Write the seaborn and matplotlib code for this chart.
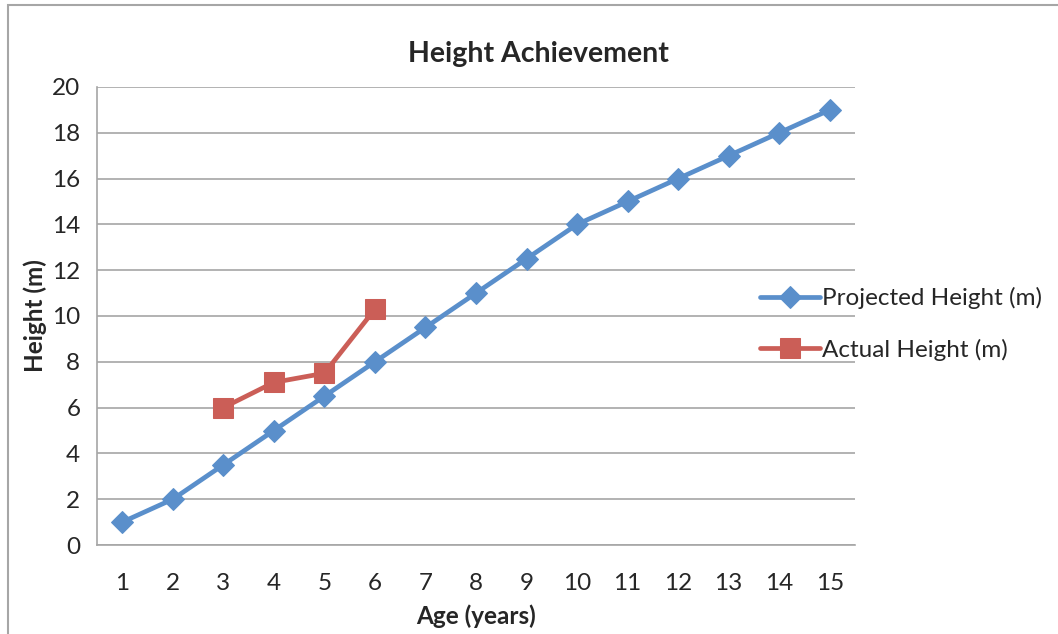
import numpy as np
import pandas as pd
import seaborn as sns
import matplotlib.pyplot as plt
from matplotlib.patches import Rectangle

ages = list(range(1, 16))
projected = [1, 2, 3.5, 5, 6.5, 8, 9.5, 11, 12.5, 14, 15, 16, 17, 18, 19]
actual_ages = [3, 4, 5, 6]
actual = [6, 7.1, 7.5, 10.3]

sns.set_style("white")
plt.rcParams['font.family'] = ['Lato', 'DejaVu Sans']

blue = "#5A8FCB"
red = "#CB5E57"
grey = "#A6A6A6"

fig = plt.figure(figsize=(10.58, 6.34), dpi=100)
ax = fig.add_axes([97 / 1058, 1 - 545 / 634, (855 - 97) / 1058, (545 - 87) / 634])

proj = pd.DataFrame({"age": ages, "height": projected})
act = pd.DataFrame({"age": actual_ages, "height": actual})

sns.lineplot(data=proj, x="age", y="height", ax=ax, color=blue, lw=3.4,
             marker="D", markersize=11, markeredgecolor=blue,
             label="Projected Height (m)", zorder=3)
sns.lineplot(data=act, x="age", y="height", ax=ax, color=red, lw=3.4,
             marker="s", markersize=14, markeredgecolor=red,
             label="Actual Height (m)", zorder=4)

ax.set_xlim(0.5, 15.5)
ax.set_ylim(0, 20)
ax.set_yticks(range(0, 21, 2))
ax.set_xticks(ages)
ax.set_xticks(np.arange(0.5, 16, 1), minor=True)
ax.tick_params(axis="x", which="major", length=0, labelsize=17.5, pad=20)
ax.tick_params(axis="x", which="minor", length=6, width=1.2, color=grey, direction="out")
ax.tick_params(axis="y", length=6, width=1.2, color=grey, direction="out", labelsize=17.5, pad=6)
ax.yaxis.grid(True, color=grey, lw=1.2)
ax.xaxis.grid(False)
ax.set_axisbelow(True)

for s in ["top", "right"]:
    ax.spines[s].set_visible(False)
for s in ["left", "bottom"]:
    ax.spines[s].set_color(grey)
    ax.spines[s].set_linewidth(1.2)

ax.set_xlabel("Age (years)", fontsize=17.5, fontweight="bold", labelpad=8)
ax.set_ylabel("Height (m)", fontsize=17.5, fontweight="bold", labelpad=4)
fig.text(538 / 1058, 1 - 54 / 634, "Height Achievement", fontsize=20.5,
         fontweight="bold", ha="center", va="center")

ax.legend(loc="center left", bbox_to_anchor=(750 / 1058, 1 - 324 / 634),
          bbox_transform=fig.transFigure, frameon=False, fontsize=17.5,
          handlelength=2.5, handletextpad=0.05, labelspacing=1.2, borderaxespad=0)

fig.add_artist(Rectangle((8 / 1058, -0.05), 1.1, 1 - 5 / 634 + 0.05,
                         transform=fig.transFigure, fill=False, ec=grey, lw=1.5))

fig.savefig("out.png", dpi=100)
